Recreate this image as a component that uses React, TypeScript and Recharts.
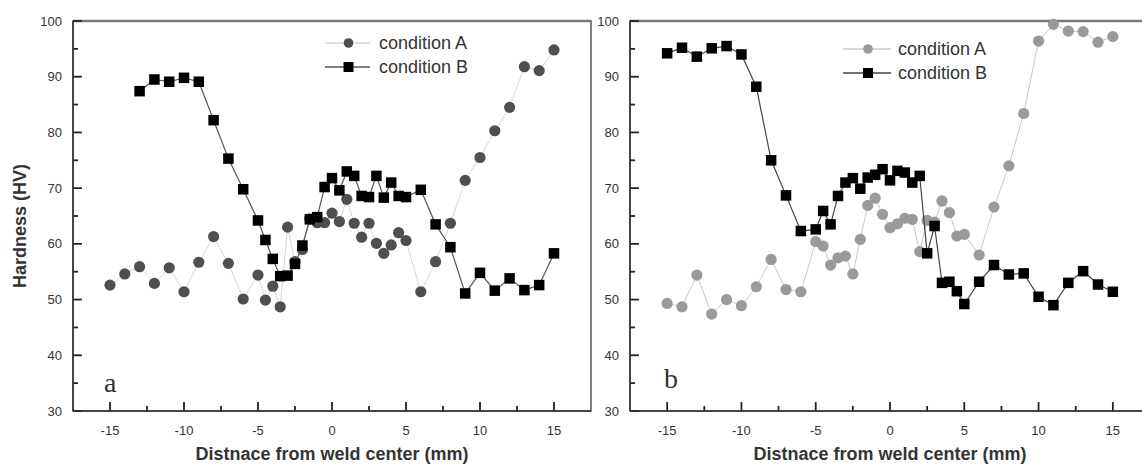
import {
  Legend,
  ReferenceArea,
  ReferenceLine,
  Scatter,
  ScatterChart,
  XAxis,
  YAxis,
} from "recharts";

// measuring positions, mm from the weld centre
const posFull = [
  -15, -14, -13, -12, -11, -10, -9, -8, -7, -6, -5, -4.5, -4, -3.5, -3, -2.5,
  -2, -1.5, -1, -0.5, 0, 0.5, 1, 1.5, 2, 2.5, 3, 3.5, 4, 4.5, 5, 6, 7, 8, 9,
  10, 11, 12, 13, 14, 15,
];
const posShort = [
  -13, -12, -11, -10, -9, -8, -7, -6, -5, -4.5, -4, -3.5, -3, -2.5, -2, -1.5,
  -1, -0.5, 0, 0.5, 1, 1.5, 2, 2.5, 3, 3.5, 4, 4.5, 5, 6, 7, 8, 9, 10, 11, 12,
  13, 14, 15,
];

// panel a, hardness (HV)
const hvA_a = [
  52.6, 54.6, 55.9, 52.9, 55.7, 51.4, 56.7, 61.3, 56.5, 50.1, 54.4, 49.9, 52.4,
  48.7, 63, 56.8, 59, 64.5, 63.8, 63.8, 65.5, 64, 68, 63.7, 61.2, 63.7, 60.1,
  58.3, 59.8, 62, 60.6, 51.4, 56.8, 63.7, 71.4, 75.5, 80.3, 84.5, 91.8, 91.1,
  94.8,
];
const hvB_a = [
  87.4, 89.5, 89.1, 89.8, 89.1, 82.2, 75.3, 69.8, 64.2, 60.7, 57.3, 54.2, 54.3,
  56.4, 59.7, 64.4, 64.8, 70.2, 71.8, 69.6, 73, 72.2, 68.6, 68.4, 72.2, 68.3,
  71, 68.6, 68.4, 69.7, 63.5, 59.4, 51.1, 54.8, 51.6, 53.8, 51.7, 52.6, 58.3,
];

// panel b, hardness (HV)
const hvA_b = [
  49.3, 48.7, 54.4, 47.4, 50, 48.9, 52.3, 57.2, 51.8, 51.4, 60.4, 59.6, 56.2,
  57.5, 57.8, 54.6, 60.8, 66.9, 68.2, 65.3, 62.9, 63.6, 64.6, 64.4, 58.6, 64.2,
  63.9, 67.7, 65.6, 61.4, 61.7, 58, 66.6, 74, 83.4, 96.4, 99.4, 98.2, 98.1,
  96.2, 97.2,
];
const hvB_b = [
  94.2, 95.2, 93.6, 95.1, 95.5, 94, 88.2, 75, 68.7, 62.3, 62.6, 65.9, 63.5,
  68.6, 71, 71.8, 69.9, 71.9, 72.4, 73.4, 71.4, 73.1, 72.8, 71, 72.2, 58.3,
  63.2, 53, 53.2, 51.5, 49.2, 53.2, 56.2, 54.5, 54.7, 50.5, 49, 53, 55.1, 52.7,
  51.4,
];

const xTicks = [-15, -12.5, -10, -7.5, -5, -2.5, 0, 2.5, 5, 7.5, 10, 12.5, 15];
const yTicks = [30, 35, 40, 45, 50, 55, 60, 65, 70, 75, 80, 85, 90, 95, 100];
const seriesNames = ["condition A", "condition B"];
const xTitle = "Distnace from weld center (mm)";
const yTitle = "Hardness (HV)";

const X_MIN = -17.5;
const X_MAX = 17.5;
const Y_MIN = 30;
const Y_MAX = 100;

const sans = "'Liberation Sans', Arial, sans-serif";
const ink = "#333";
const tickInk = "#222";

const toPoints = (xs: number[], ys: number[]) =>
  xs.map((x, i) => ({ x, y: ys[i] }));

const XTickLabel = (props: any) => {
  const { x, y, payload } = props;
  if (payload.value % 5 !== 0) return <g />;
  return (
    <text x={x} y={y + 22} textAnchor="middle" fontSize={13} fill={ink} fontFamily={sans}>
      {payload.value}
    </text>
  );
};

const YTickLabel = (props: any) => {
  const { x, y, payload } = props;
  if (payload.value % 10 !== 0) return <g />;
  return (
    <text x={x - 9} y={y + 4.5} textAnchor="end" fontSize={13} fill={ink} fontFamily={sans}>
      {payload.value}
    </text>
  );
};

const dotShape = (fill: string, r: number) => (p: any) =>
  <circle cx={p.cx} cy={p.cy} r={r} fill={fill} />;

const squareShape = (fill: string, s: number) => (p: any) =>
  <rect x={p.cx - s / 2} y={p.cy - s / 2} width={s} height={s} fill={fill} />;

type LegendProps = {
  colorA: string;
  lineA: string;
  lineB: string;
  lineLen: number;
  markAt: number;
  gap: number;
};

const LegendBox = ({ colorA, lineA, lineB, lineLen, markAt, gap }: LegendProps) => (
  <div style={{ fontFamily: sans, fontSize: 18, color: ink }}>
    {seriesNames.map((name, i) => (
      <div key={name} style={{ display: "flex", alignItems: "center", height: 24 }}>
        <svg width={lineLen + gap} height={24}>
          <line x1={0} x2={lineLen} y1={12} y2={12} stroke={i === 0 ? lineA : lineB} strokeWidth={1.3} />
          {i === 0 ? (
            <circle cx={markAt} cy={12} r={4.8} fill={colorA} />
          ) : (
            <rect x={markAt - 5} y={7} width={10} height={10} fill="#000" />
          )}
        </svg>
        <span>{name}</span>
      </div>
    ))}
  </div>
);

type PanelProps = {
  left: number;
  marginRight: number;
  a: { x: number; y: number }[];
  b: { x: number; y: number }[];
  colorA: string;
  lineA: string;
  lineB: string;
  legendLeft: number;
  legendTop: number;
  legendLine: number;
  showYTitle: boolean;
};

// inward tick marks as short segments in data units (~9 px major, ~5 px minor)
const xMarkLen = (v: number) => (v % 5 === 0 ? 1.6 : 0.9);
const yMarkLen = (v: number) => (v % 10 === 0 ? 0.6 : 0.34);

const Panel = (p: PanelProps) => (
  <div style={{ position: "absolute", left: p.left, top: 0 }}>
    <ScatterChart
      width={600}
      height={467}
      margin={{ top: 21, right: p.marginRight, bottom: 0, left: 0 }}
    >
      <ReferenceArea
        x1={X_MIN}
        x2={X_MAX}
        y1={Y_MIN}
        y2={Y_MAX}
        fill="none"
        stroke="#555"
        strokeWidth={1.5}
      />
      <ReferenceLine y={Y_MAX} stroke="#777" strokeWidth={2.5} />
      {xTicks.map((v) => (
        <ReferenceLine
          key={`xt${v}`}
          segment={[
            { x: v, y: Y_MIN },
            { x: v, y: Y_MIN + xMarkLen(v) },
          ]}
          stroke={tickInk}
          strokeWidth={1.8}
        />
      ))}
      {yTicks.map((v) => (
        <ReferenceLine
          key={`yt${v}`}
          segment={[
            { x: X_MIN, y: v },
            { x: X_MIN + yMarkLen(v), y: v },
          ]}
          stroke={tickInk}
          strokeWidth={1.8}
        />
      ))}
      <XAxis
        type="number"
        dataKey="x"
        domain={[X_MIN, X_MAX]}
        ticks={xTicks}
        interval={0}
        height={56}
        tickSize={0}
        tickLine={false}
        tick={<XTickLabel />}
        axisLine={{ stroke: ink, strokeWidth: 1.5 }}
        label={{
          value: xTitle,
          position: "insideBottom",
          offset: 7,
          fontSize: 18,
          fontWeight: 700,
          fill: ink,
          fontFamily: sans,
        }}
      />
      <YAxis
        type="number"
        dataKey="y"
        domain={[Y_MIN, Y_MAX]}
        ticks={yTicks}
        interval={0}
        width={73}
        tickSize={0}
        tickLine={false}
        tick={<YTickLabel />}
        axisLine={{ stroke: ink, strokeWidth: 1.5 }}
        label={
          p.showYTitle
            ? {
                content: (lp: any) => {
                  const vb = lp.viewBox;
                  const cx = vb.x + 20;
                  const cy = vb.y + vb.height / 2 + 10;
                  return (
                    <text
                      transform={`translate(${cx},${cy}) rotate(-90)`}
                      textAnchor="middle"
                      dominantBaseline="central"
                      fontSize={18}
                      fontWeight={700}
                      fill={ink}
                      fontFamily={sans}
                    >
                      {yTitle}
                    </text>
                  );
                },
              }
            : undefined
        }
      />
      <Legend
        layout="horizontal"
        verticalAlign="middle"
        align="center"
        wrapperStyle={{ left: p.legendLeft, top: p.legendTop, width: "auto" }}
        content={() => (
          <LegendBox
            colorA={p.colorA}
            lineA={p.lineA}
            lineB={p.lineB}
            lineLen={p.legendLine}
            markAt={p.legendLine / 2 + 1}
            gap={p.legendLine === 45 ? 9 : 7}
          />
        )}
      />
      <Scatter
        name={seriesNames[0]}
        data={p.a}
        shape={dotShape(p.colorA, 5.6)}
        line={{ stroke: p.lineA, strokeWidth: 1 }}
        isAnimationActive={false}
      />
      <Scatter
        name={seriesNames[1]}
        data={p.b}
        shape={squareShape("#000", 10.5)}
        line={{ stroke: p.lineB, strokeWidth: 1.2 }}
        isAnimationActive={false}
      />
    </ScatterChart>
  </div>
);

const App = () => {
  return (
    <div
      style={{
        position: "fixed",
        left: 0,
        top: 0,
        width: 1142,
        height: 467,
        overflow: "hidden",
        background: "#fff",
      }}
    >
      <Panel
        left={0}
        marginRight={9}
        a={toPoints(posFull, hvA_a)}
        b={toPoints(posShort, hvB_a)}
        colorA="#4f4f4f"
        lineA="#d6d6d6"
        lineB="#555"
        legendLeft={325}
        legendTop={31}
        legendLine={45}
        showYTitle
      />
      <Panel
        left={557}
        marginRight={7}
        a={toPoints(posFull, hvA_b)}
        b={toPoints(posFull, hvB_b)}
        colorA="#9a9a9a"
        lineA="#c8c8c8"
        lineB="#444"
        legendLeft={286}
        legendTop={37}
        legendLine={48}
        showYTitle={false}
      />
      <svg
        width={1142}
        height={467}
        style={{ position: "absolute", left: 0, top: 0, pointerEvents: "none" }}
      >
        <text x={104} y={392} fontSize={28} fontFamily="'Liberation Serif', serif" fill={ink}>
          a
        </text>
        <text x={664} y={388} fontSize={28} fontFamily="'Liberation Serif', serif" fill={ink}>
          b
        </text>
      </svg>
    </div>
  );
};

export default App;
